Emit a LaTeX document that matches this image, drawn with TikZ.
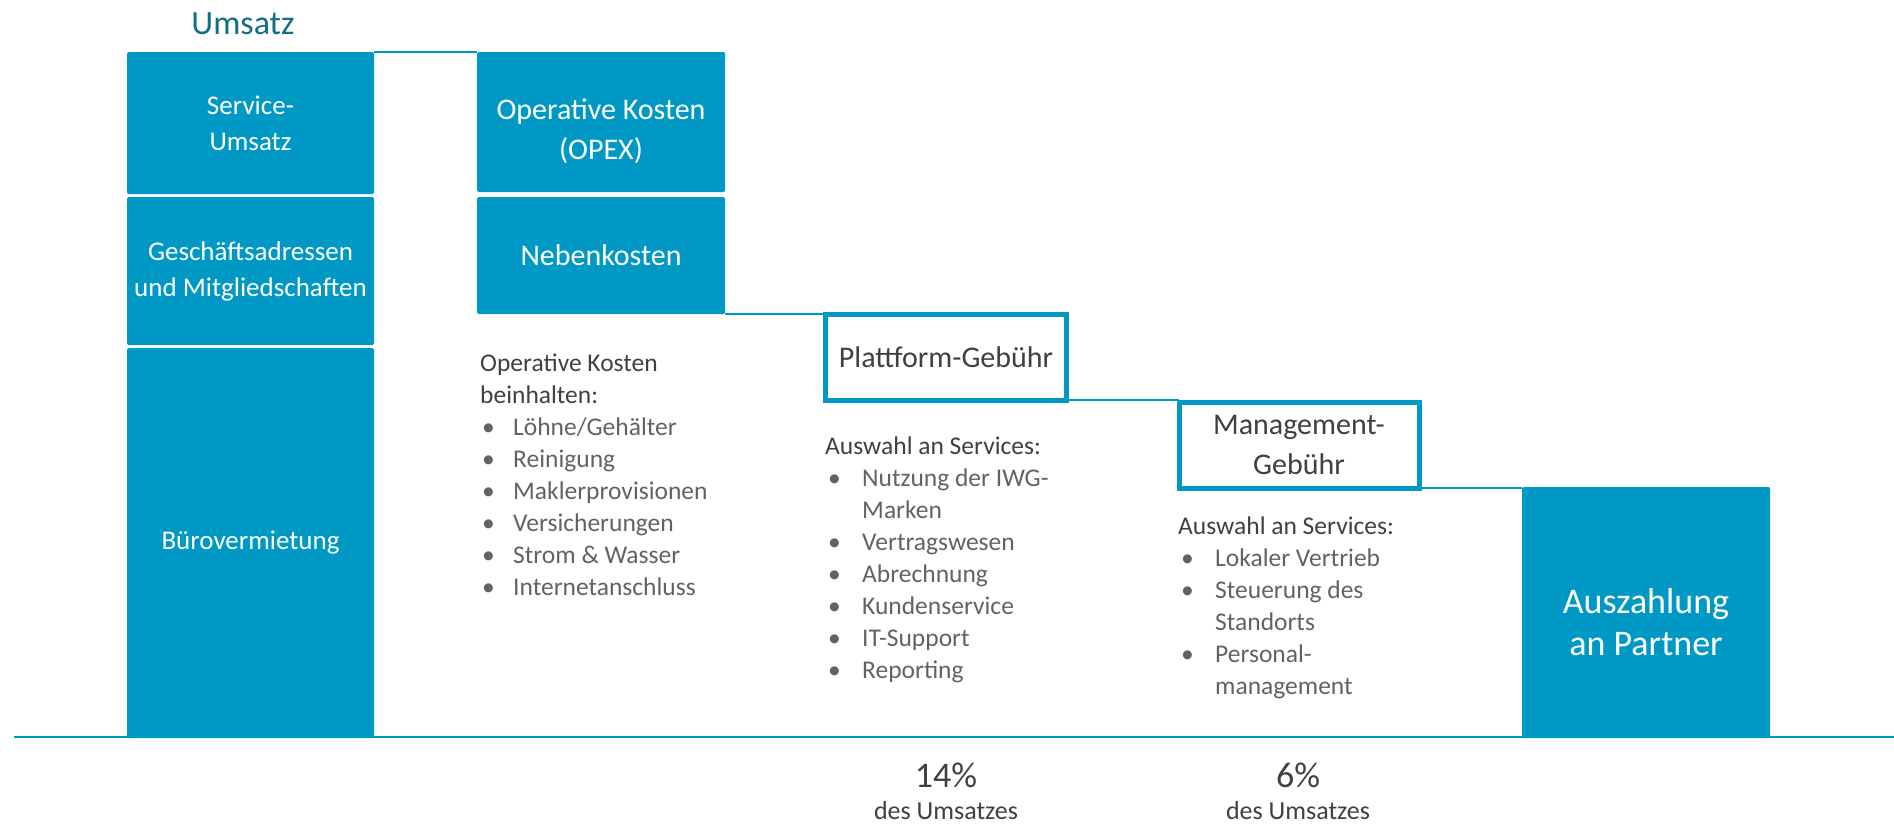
\documentclass[tikz,border=0pt]{standalone}
\usepackage{fontspec}
\setmainfont{Carlito}
\definecolor{iwgblue}{HTML}{0099C5}
\definecolor{titleteal}{HTML}{126E84}
\definecolor{hdgray}{HTML}{404040}
\definecolor{itgray}{HTML}{626262}
\begin{document}
\begin{tikzpicture}[x=1pt,y=-1pt,
  fillbox/.style={fill=iwgblue, text=white, inner sep=0pt, outer sep=0pt, rounded corners=1.5pt, align=center},
  outbox/.style={draw=iwgblue, line width=5pt, fill=white, text=hdgray, inner sep=0pt, outer sep=0pt, align=center},
  conn/.style={draw=iwgblue, line width=2pt},
  boxtxt/.style={font=\fontsize{30}{40}\selectfont},
  coltxt/.style={font=\fontsize{27}{36}\selectfont},
  listtxt/.style={anchor=north west, inner sep=0pt, text=itgray, font=\fontsize{25.5}{32}\selectfont},
  pcttxt/.style={text=hdgray, inner sep=0pt, font=\fontsize{36}{40}\selectfont},
  destxt/.style={text=hdgray, inner sep=0pt, font=\fontsize{26}{30}\selectfont}]
\useasboundingbox (0,0) rectangle (1894,825);

% base line
\coordinate (bl) at (14,737);
\coordinate (br) at (1894,737);
\draw[conn] (bl) -- (br);

% title
\node[text=titleteal, font=\fontsize{34}{40}\selectfont, inner sep=0pt] (title) at (243,24) {Umsatz};

% revenue column
\node[fillbox, coltxt, minimum width=247pt, minimum height=142pt] (svc) at (250.5,123) {Service-\\Umsatz};
\node[fillbox, coltxt, minimum width=247pt, minimum height=148pt] (geo) at (250.5,271) {Geschäftsadressen\\und Mitgliedschaften};
\node[fillbox, coltxt, minimum width=247pt, minimum height=390pt] (buero) at (250.5,543) {Bürovermietung};

% costs
\node[fillbox, minimum width=248pt, minimum height=140pt] (opex) at (601,122) {};
\node[text=white, boxtxt, align=center, inner sep=0pt] (opext) at (601,131) {Operative Kosten\\(OPEX)};
\node[fillbox, boxtxt, minimum width=248pt, minimum height=117pt] (neben) at (601,255.5) {Nebenkosten};

% fees
\node[outbox, boxtxt, minimum width=241pt, minimum height=86pt] (platt) at (946,357) {Plattform-Gebühr};
\node[outbox, boxtxt, minimum width=240pt, minimum height=86pt] (mgmt) at (1299,445) {Management-\\Gebühr};

% payout
\node[fillbox, minimum width=248pt, minimum height=251pt] (ausz) at (1646,612.5) {};
\node[text=white, font=\fontsize{36}{42}\selectfont, align=center, inner sep=0pt] (auszt) at (1646,622) {Auszahlung\\an Partner};

% connectors
\draw[conn] (svc.north east) -- (svc.north east -| opex.west);
\draw[conn] (neben.south east) -- (neben.south east -| platt.west);
\draw[conn] (platt.south east) -- (platt.south east -| mgmt.west);
\draw[conn] (mgmt.south east) -- (mgmt.south east -| ausz.west);

% lists
\node[listtxt] (list1) at (480,349) {\begin{tabular}{@{}p{33pt}@{}l@{}}
\multicolumn{2}{@{}l@{}}{\color{hdgray}Operative Kosten}\\
\multicolumn{2}{@{}l@{}}{\color{hdgray}beinhalten:}\\
\hspace*{2pt}• & Löhne/Gehälter\\
\hspace*{2pt}• & Reinigung\\
\hspace*{2pt}• & Maklerprovisionen\\
\hspace*{2pt}• & Versicherungen\\
\hspace*{2pt}• & Strom \& Wasser\\
\hspace*{2pt}• & Internetanschluss
\end{tabular}};

\node[listtxt] (list2) at (825,432) {\begin{tabular}{@{}p{37pt}@{}l@{}}
\multicolumn{2}{@{}l@{}}{\color{hdgray}Auswahl an Services:}\\
\hspace*{3pt}• & Nutzung der IWG-\\
 & Marken\\
\hspace*{3pt}• & Vertragswesen\\
\hspace*{3pt}• & Abrechnung\\
\hspace*{3pt}• & Kundenservice\\
\hspace*{3pt}• & IT-Support\\
\hspace*{3pt}• & Reporting
\end{tabular}};

\node[listtxt] (list3) at (1178,512) {\begin{tabular}{@{}p{37pt}@{}l@{}}
\multicolumn{2}{@{}l@{}}{\color{hdgray}Auswahl an Services:}\\
\hspace*{3pt}• & Lokaler Vertrieb\\
\hspace*{3pt}• & Steuerung des\\
 & Standorts\\
\hspace*{3pt}• & Personal-\\
 & management
\end{tabular}};

% percentages
\node[pcttxt] (pct1) at (946,775) {14\%};
\node[destxt] (des1) at (946,811) {des Umsatzes};
\node[pcttxt] (pct2) at (1298,775) {6\%};
\node[destxt] (des2) at (1298,811) {des Umsatzes};
\end{tikzpicture}
\end{document}
